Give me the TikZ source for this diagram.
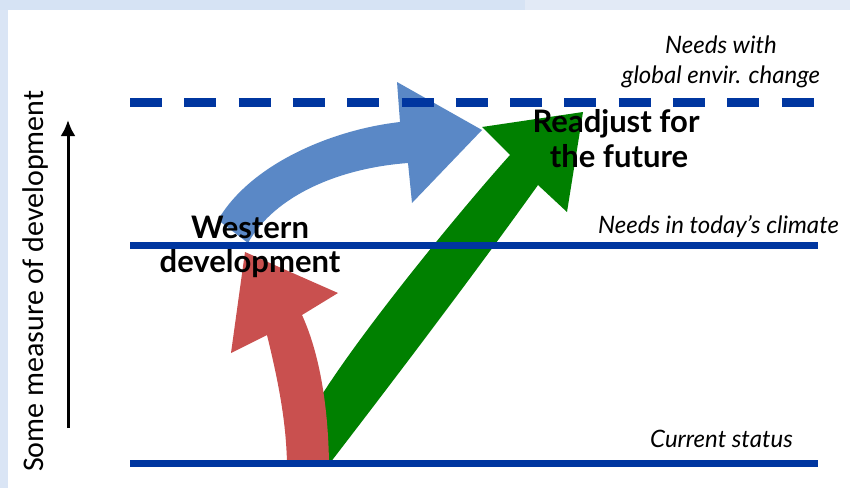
\documentclass[tikz,border=0pt]{standalone}
\usepackage{fontspec}
\setmainfont{Lato}
\newfontfamily\calfont{Carlito}
\usetikzlibrary{arrows.meta}
\definecolor{lineblue}{HTML}{0036A0}
\definecolor{bgA}{HTML}{D6E3F4}
\definecolor{bgB}{HTML}{E2EAF6}
\definecolor{arrred}{HTML}{C9504F}
\definecolor{arrblue}{HTML}{5A88C6}
\definecolor{arrgreen}{HTML}{008000}
\begin{document}
\begin{tikzpicture}[x=1pt,y=-1pt,
  level/.style={draw=lineblue, line width=7pt},
  lbl/.style={font=\fontsize{24}{28}\selectfont\itshape, inner sep=0pt},
  big/.style={font=\fontsize{31}{35}\selectfont\bfseries, inner sep=0pt},
  axislbl/.style={font=\calfont\fontsize{30}{34}\selectfont, inner sep=0pt, rotate=90}]
\useasboundingbox (0,0) rectangle (850,488);
% background
\fill[bgA] (0,0) rectangle (525,488);
\fill[bgB] (525,0) rectangle (850,10);
\fill[bgA!70!bgB] (0,10) rectangle (8,488);
\fill[white] (8,10) rectangle (850,488);
% blue curved arrow
\fill[arrblue] (218,220) -- (248,243)
  .. controls (275,195) and (340,168) .. (408,163)
  -- (412,203) -- (482,130) -- (397,82) -- (400,122)
  .. controls (330,130) and (250,165) .. (218,220) -- cycle;
% green arrow
\fill[arrgreen] (330,463)
  .. controls (390,385) and (470,280) .. (538,185)
  -- (567,212) -- (583,112) -- (482,127) -- (510,155)
  .. controls (465,205) and (370,320) .. (323,393)
  -- (305,440) -- cycle;
% red arrow
\fill[arrred] (287,463) -- (329,463)
  .. controls (328,400) and (318,350) .. (302,315)
  -- (338,293) -- (245,252) -- (231,353) -- (267,335)
  .. controls (278,380) and (286,420) .. (287,463) -- cycle;
% level lines
\coordinate (topL) at (130,102); \coordinate (topR) at (818,102);
\coordinate (midL) at (130,245.5); \coordinate (midR) at (818,245.5);
\coordinate (botL) at (130,463); \coordinate (botR) at (818,463);
\draw[level, line width=9pt, dash pattern=on 32pt off 22.3pt] (topL) -- (topR);
\draw[level] (midL) -- (midR);
\draw[level] (botL) -- (botR);
% labels
\node[lbl, anchor=base] (needsA) at (721,53) {Needs with};
\node[lbl, anchor=base] (needsB) at (721,83) {global envir. change};
\node[lbl, anchor=base west] (today) at (598,233) {Needs in today’s climate};
\node[lbl, anchor=base west] (current) at (650,447) {Current status};
\node[big, anchor=base] (western) at (250,238) {Western};
\node[big, anchor=base] (westdev) at (250,272) {development};
\node[big, anchor=base] (readj) at (616,132) {Readjust for};
\node[big, anchor=base] (future) at (619,167) {the future};
% axis
\coordinate (axB) at (68,428); \coordinate (axT) at (68,120);
\draw[line width=3pt, -{Latex[length=16pt,width=15pt]}] (axB) -- (axT);
\node[axislbl, anchor=base west] (axis) at (43,472) {Some measure of development};
\end{tikzpicture}
\end{document}
